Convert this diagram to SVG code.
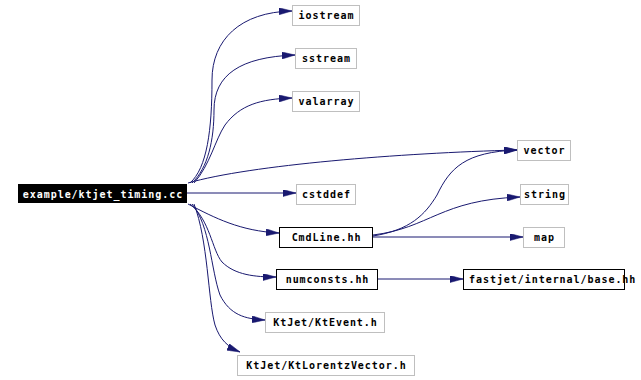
<svg xmlns="http://www.w3.org/2000/svg" width="641" height="380" viewBox="0 0 641 380">
<style>
.n rect{fill:#fff;stroke:#bfbfbf;stroke-width:1}
.d rect{fill:#fff;stroke:#000;stroke-width:1}
.m rect{fill:#000;stroke:#000;stroke-width:1}
text{font-family:"DejaVu Sans Mono","Liberation Mono",monospace;font-weight:bold;font-size:10px;letter-spacing:0.95px;fill:#000;text-anchor:middle}
.m text{fill:#fff}
#edges path{fill:none;stroke:#191970;stroke-width:1;marker-end:url(#ah)}
</style>
<defs>
<marker id="ah" viewBox="0 0 13 7" refX="13" refY="3.5" markerWidth="13" markerHeight="7" markerUnits="userSpaceOnUse" orient="auto">
<path d="M0,0 L13,3.5 L0,7 z" fill="#191970" stroke="#191970" stroke-width="0.5"/>
</marker>
</defs>
<rect width="641" height="380" fill="#fff"/>
<g id="edges">
<path d="M190,183 C207,168 212,130 212,80 C212,40 240,12 292,11"/>
<path d="M192,183 C208,168 214,140 214,110 C214,75 240,57 295,55"/>
<path d="M194,183 C210,165 215,140 225,125 C240,105 260,99 292,98"/>
<path d="M188,183 C250,165 400,153 517,150"/>
<path d="M187,193 L296,193"/>
<path d="M188,204 C215,218 240,231 279,233"/>
<path d="M190,204 C210,220 212,250 222,262 C235,275 255,277 276,277"/>
<path d="M192,204 C210,225 211,270 220,295 C230,315 245,319 265,320"/>
<path d="M194,204 C208,240 208,300 215,325 C220,340 228,347 240,352"/>
<path d="M373,237 L523,237"/>
<path d="M373,235 C430,228 440,200 520,197"/>
<path d="M373,236 C410,230 425,215 437,195 C450,168 465,152 517,150"/>
<path d="M378,279 L463,279"/>
</g>
<g id="main" class="m"><rect x="18.5" y="184.5" width="168" height="18"/><text x="103" y="197.5">example/ktjet_timing.cc</text></g>
<g id="iostream" class="n"><rect x="292.5" y="5.5" width="67" height="20"/><text x="326.5" y="19">iostream</text></g>
<g id="sstream" class="n"><rect x="295.5" y="48.5" width="61" height="20"/><text x="326.5" y="62">sstream</text></g>
<g id="valarray" class="n"><rect x="292.5" y="91.5" width="67" height="20"/><text x="326.5" y="105">valarray</text></g>
<g id="cstddef" class="n"><rect x="296.5" y="184.5" width="59" height="20"/><text x="326.5" y="198">cstddef</text></g>
<g id="cmdline" class="d"><rect x="279.5" y="227.5" width="93" height="20"/><text x="326.5" y="241">CmdLine.hh</text></g>
<g id="numconsts" class="d"><rect x="276.5" y="269.5" width="101" height="20"/><text x="327.5" y="283">numconsts.hh</text></g>
<g id="ktevent" class="n"><rect x="265.5" y="312.5" width="119" height="20"/><text x="325.5" y="326">KtJet/KtEvent.h</text></g>
<g id="ktlorentz" class="n"><rect x="237.5" y="355.5" width="177" height="20"/><text x="326.5" y="369">KtJet/KtLorentzVector.h</text></g>
<g id="vector" class="n"><rect x="517.5" y="140.5" width="53" height="20"/><text x="544.5" y="154">vector</text></g>
<g id="string" class="n"><rect x="520.5" y="184.5" width="48" height="20"/><text x="545" y="198">string</text></g>
<g id="map" class="n"><rect x="523.5" y="227.5" width="41" height="20"/><text x="544.5" y="241">map</text></g>
<g id="base" class="d"><rect x="463.5" y="269.5" width="161" height="20"/><text x="469" y="283" style="text-anchor:start">fastjet/internal/base.hh</text></g>
</svg>
